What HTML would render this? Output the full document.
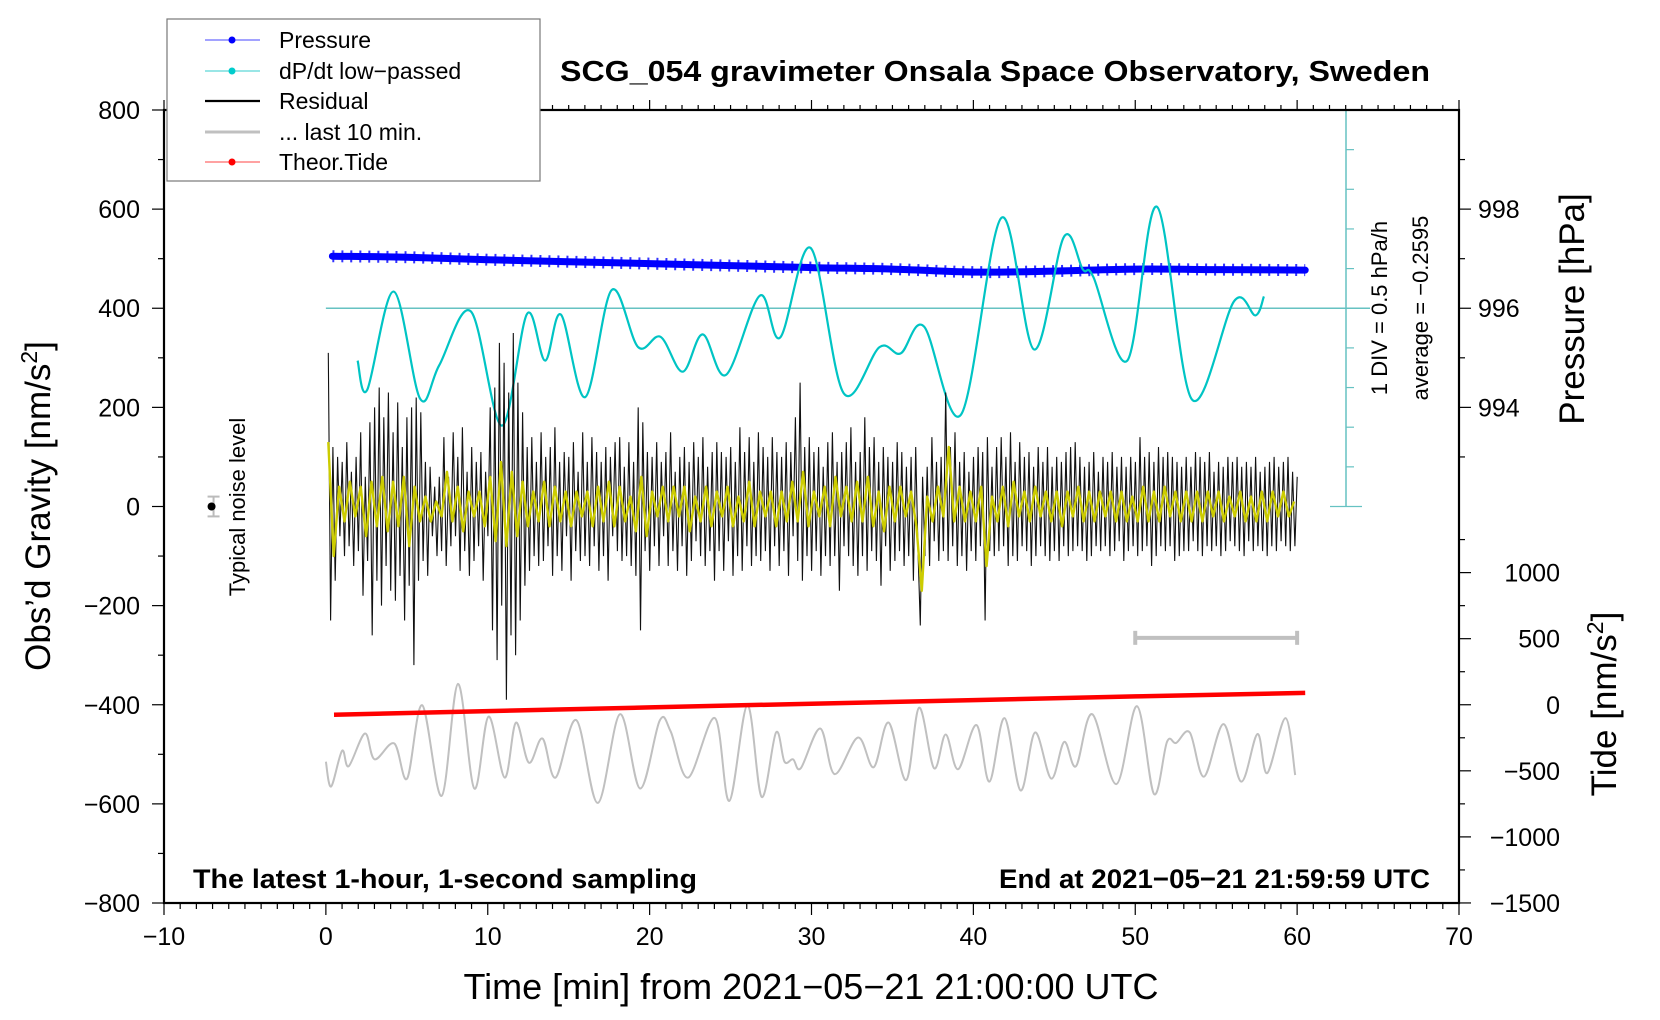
<!DOCTYPE html>
<html><head><meta charset="utf-8"><style>
html,body{margin:0;padding:0;background:#fff}
svg{display:block;font-family:"Liberation Sans",sans-serif}
</style></head><body>
<svg id="chart" width="1660" height="1020" viewBox="0 0 1660 1020" xmlns="http://www.w3.org/2000/svg">
<rect width="1660" height="1020" fill="#fff"/>
<g id="marks"></g>
<g id="axes"></g>
<text x="995" y="81" text-anchor="middle" font-size="29" font-weight="bold" textLength="870" lengthAdjust="spacingAndGlyphs">SCG_054 gravimeter Onsala Space Observatory, Sweden</text>
<text x="193" y="888" font-size="27" font-weight="bold" textLength="504" lengthAdjust="spacingAndGlyphs">The latest 1-hour, 1-second sampling</text>
<text x="1430" y="888" text-anchor="end" font-size="27" font-weight="bold" textLength="431" lengthAdjust="spacingAndGlyphs">End at 2021−05−21 21:59:59 UTC</text>
<text x="811" y="999" text-anchor="middle" font-size="36" textLength="695" lengthAdjust="spacingAndGlyphs">Time [min] from 2021−05−21 21:00:00 UTC</text>
<text transform="translate(50,506) rotate(-90)" text-anchor="middle" font-size="35">Obs’d Gravity [nm/s<tspan font-size="23" dy="-13">2</tspan><tspan dy="13">]</tspan></text>
<text transform="translate(1584,309) rotate(-90)" text-anchor="middle" font-size="35">Pressure [hPa]</text>
<text transform="translate(1616,704) rotate(-90)" text-anchor="middle" font-size="35">Tide [nm/s<tspan font-size="23" dy="-13">2</tspan><tspan dy="13">]</tspan></text>
<text transform="translate(1387,308) rotate(-90)" text-anchor="middle" font-size="22">1 DIV = 0.5 hPa/h</text>
<text transform="translate(1428,308) rotate(-90)" text-anchor="middle" font-size="22">average = −0.2595</text>
<text transform="translate(245,507) rotate(-90)" text-anchor="middle" font-size="22">Typical noise level</text>
<g>
<rect x="167" y="19" width="373" height="162" fill="#fff" stroke="#777" stroke-width="1.2"/>
<line x1="205" y1="40" x2="260" y2="40" stroke="#4444ff" stroke-width="1"/><circle cx="232" cy="40" r="3.5" fill="#0000ff"/>
<text x="279" y="48" font-size="23">Pressure</text>
<line x1="205" y1="71" x2="260" y2="71" stroke="#33cccc" stroke-width="1"/><circle cx="232" cy="71" r="3.5" fill="#00cccc"/>
<text x="279" y="79" font-size="23">dP/dt low−passed</text>
<line x1="205" y1="101" x2="260" y2="101" stroke="#000" stroke-width="2.2"/>
<text x="279" y="109" font-size="23">Residual</text>
<line x1="205" y1="132" x2="260" y2="132" stroke="#c0c0c0" stroke-width="3"/>
<text x="279" y="140" font-size="23">... last 10 min.</text>
<line x1="205" y1="162" x2="260" y2="162" stroke="#ff4444" stroke-width="1"/><circle cx="232" cy="162" r="3.5" fill="#ff0000"/>
<text x="279" y="170" font-size="23">Theor.Tide</text>
</g>
</svg>
<script>
// ---- data ----
const xTicks = [-10,0,10,20,30,40,50,60,70];
const yTicks = [800,600,400,200,0,-200,-400,-600,-800];
const pressureTicks = [998,996,994];
const tideTicks = [1000,500,0,-500,-1000,-1500];
const pressureT = [0.4,5,10,15,20,25,30,35,40,45,50,55,60.5];
const pressureV = [997.05,997.03,996.98,996.94,996.9,996.86,996.82,996.79,996.73,996.75,996.79,996.78,996.77];
const dpdtT = [1.96,2.55,4.19,5.82,7.0,8.96,10.86,12.43,13.54,14.52,16.02,17.66,19.29,20.67,22.04,23.28,24.72,26.81,28.06,29.95,31.98,34.2,35.51,36.95,39.24,41.73,43.75,45.59,46.76,47.42,49.51,51.34,53.5,56.11,57.42,57.95];
const dpdtDev = [-0.66,-1.03,0.21,-1.14,-0.72,-0.04,-1.48,-0.07,-0.66,-0.08,-1.12,0.23,-0.49,-0.36,-0.8,-0.33,-0.84,0.16,-0.37,0.76,-1.07,-0.49,-0.57,-0.23,-1.34,1.14,-0.52,0.9,0.49,0.39,-0.66,1.28,-1.15,0.09,-0.09,0.15];
const tideT = [0.5,10,20,30,40,50,60.5];
const tideV = [-75,-48,-20,8,35,63,90];
const residual = [
310,-230,120,-150,100,-60,90, -100,130,-80,70,-120,100,-90, 150,-180,60,-110,170,-260,200, -150,240,-200,180,-120,230,-170,
150,-190,210,-140,120,-230,180, -160,200,-320,220,-150,190,-110, 90,-140,80,-60,40,-100,60, -90,140,-120,60,-80,150,-60,
100,-130,160,-90,70,-140,120, -110,90,-80,110,-150,70,-60, 200,-250,240,-310,330,-200,290, -390,230,-260,350,-300,250,-230,
190,-160,120,-130,140,-100,90, -120,150,-110,100,-80,120,-140, 160,-100,90,-130,110,-60,100, -150,130,-90,70,-110,150,-100,
90,-120,140,-80,110,-130,90, -100,120,-150,100,-60,130,-90, 140,-110,80,-100,130,-120,90, -140,200,-250,170,-90,110,-130,
100,-80,130,-120,90,-60,110, -120,150,-90,70,-130,100,-80, 120,-140,90,-110,130,-70,100, -100,140,-120,80,-90,110,-150,
130,-90,110,-130,100,-70,120, -140,90,-100,160,-130,110,-80, 140,-120,90,-100,150,-110,120, -90,100,-130,140,-80,110,-120,
100,-90,130,-140,110,-60,180, -110,250,-150,120,-100,140,-130, 110,-90,120,-140,80,-100,130, -120,150,-100,90,-170,110,-80,
130,-100,160,-120,90,-140,110, -100,180,-130,120,-90,140,-110, 90,-160,120,-80,100,-130,90, -110,130,-90,110,-120,80,-100,
100,-150,120,-90,-240,60,-100, 80,-120,140,-70,90,-110,100, -90,230,-110,120,-80,150,-120, 90,-100,110,-130,70,-90,100,
-110,120,-80,110,-230,140,-90, 80,-100,120,-90,140,-80,100, -120,150,-100,90,-110,130,-80, 100,-90,110,-120,80,-100,120,
-80,90,-100,120,-110,80,-90, 100,-110,90,-80,110,-100,120, -90,130,-80,100,-90,80,-110, 90,-100,110,-80,70,-90,100,
-80,90,-100,110,-90,80,-70, 100,-110,80,-90,100,-80,90, -100,140,-90,100,-80,110,-120, 90,-100,120,-80,100,-90,110,
-80,100,-110,90,-100,80,-90, 100,-90,80,-70,110,-90,100, -100,90,-80,110,-90,70,-80, 90,-100,80,-90,100,-70,90,
-80,100,-90,80,-100,90,-70, 80,-90,100,-80,70,-90,80, -100,90,-80,100,-90,80,-70, 90,-80,100,-90,70,-80,60];
const smoothed = [
130,-100,40,-30,50,-20,40,-60,50,-40,60,-50,50,-40,60,-80,40,-30,20,-30,10,-20,70,-30,40,-50,30,-20,30,-40,
60,-70,90,-80,70,-60,50,-40,30,-30,50,-40,40,-30,30,-40,30,-20,30,-40,40,-30,50,-40,40,-30,20,-50,60,-60,
30,-20,40,-30,40,-20,40,-50,20,-30,40,-40,30,-20,40,-40,20,-30,50,-40,30,-20,30,-40,30,-30,50,-30,70,-40,
30,-20,40,-40,60,-20,40,-30,50,-30,60,-40,30,-50,40,-30,40,-20,30,-40,-170,20,-30,40,-20,120,-30,40,-30,30,
-30,40,-120,20,-30,40,-40,50,-20,30,-30,40,-20,30,-30,30,-40,30,-20,40,-30,30,-30,30,-20,30,-30,30,-30,20,
-30,40,-30,30,-30,40,-20,30,-30,30,-30,30,-30,30,-20,30,-30,20,-20,30,-30,20,-30,30,-30,30,-20,30,-20,10];
const grayT = [0,0.32,1.0,1.41,2.41,3.01,4.22,5.02,5.95,7.15,8.16,9.17,10.05,11.05,11.74,12.54,13.38,14.19,15.47,16.8,18.17,19.41,20.62,21.3,22.38,24.03,24.92,26.04,26.92,27.81,28.33,28.86,29.34,30.54,31.43,32.87,33.84,34.76,35.85,36.65,37.57,38.29,39.06,40.19,40.99,41.92,42.92,43.81,44.81,45.61,46.34,47.34,48.83,50.11,51.16,51.96,52.53,53.37,54.25,55.46,56.54,57.55,58.15,59.28,59.88];
const grayV = [-515,-565,-493,-524,-458,-510,-478,-549,-401,-584,-358,-569,-424,-547,-436,-517,-468,-547,-431,-598,-419,-569,-432,-454,-547,-427,-594,-401,-586,-456,-515,-510,-528,-448,-540,-466,-526,-436,-552,-406,-528,-460,-530,-441,-555,-427,-573,-456,-549,-475,-524,-419,-560,-403,-580,-475,-477,-456,-545,-439,-555,-459,-538,-427,-542];
const noiseT = -7, noiseV = 0, noiseErr = 20;
const barT = [50,60], barV = -265;

// ---- scales ----
const X = t => 164 + (t + 10) * 16.1875;
const Yg = g => 506.5 - g * 0.49563;
const Yp = p => Yg(400 + (p - 996) * 100);
const Yt = v => Yg(-400 + v * 0.2666);
const Yd = d => Yg(400 + d * 160);
const NS = 'http://www.w3.org/2000/svg';
const marks = document.getElementById('marks');
const axes = document.getElementById('axes');
function mk(tag, attrs, parent) {
  const e = document.createElementNS(NS, tag);
  for (const k in attrs) e.setAttribute(k, attrs[k]);
  parent.appendChild(e); return e;
}
function smoothPath(pts) {
  let d = 'M' + pts[0][0].toFixed(1) + ',' + pts[0][1].toFixed(1);
  for (let i = 0; i < pts.length - 1; i++) {
    const p0 = pts[Math.max(0, i - 1)], p1 = pts[i], p2 = pts[i + 1], p3 = pts[Math.min(pts.length - 1, i + 2)];
    const c1x = p1[0] + (p2[0] - p0[0]) / 6, c1y = p1[1] + (p2[1] - p0[1]) / 6;
    const c2x = p2[0] - (p3[0] - p1[0]) / 6, c2y = p2[1] - (p3[1] - p1[1]) / 6;
    d += ' C' + c1x.toFixed(1) + ',' + c1y.toFixed(1) + ' ' + c2x.toFixed(1) + ',' + c2y.toFixed(1) + ' ' + p2[0].toFixed(1) + ',' + p2[1].toFixed(1);
  }
  return d;
}

// dP/dt axis and baseline
const dAxis = mk('g', {}, marks);


mk('line', {x1: X(0), y1: Yd(0), x2: 1370, y2: Yd(0), stroke: '#66c2c2', 'stroke-width': 1.5}, dAxis);
mk('line', {x1: 1346, y1: Yg(800), x2: 1346, y2: Yg(0), stroke: '#66c2c2', 'stroke-width': 1.5}, dAxis);
for (let k = -5; k <= 5; k++) {
  const y = Yd(k * 0.5);
  const w = (k === 0 || Math.abs(k) === 5) ? 16 : 8;
  mk('line', {x1: 1346 - (Math.abs(k) === 5 ? 16 : 0), y1: y, x2: 1346 + w, y2: y, stroke: '#66c2c2', 'stroke-width': 1.2}, dAxis);
}

// pressure band
const pp = pressureT.map((t, i) => [X(t), Yp(pressureV[i])]);
const pLine = mk('path', {d: smoothPath(pp), fill: 'none', stroke: '#0000ff', 'stroke-width': 7, 'stroke-linecap': 'round'}, marks);


const pLine2 = mk('path', {d: smoothPath(pp), fill: 'none', stroke: '#0000ff', 'stroke-width': 12, 'stroke-dasharray': '2 7', 'stroke-opacity': 0.8}, marks);



// dP/dt curve
const dc = mk('path', {d: smoothPath(dpdtT.map((t, i) => [X(t), Yd(dpdtDev[i])])), fill: 'none', stroke: '#00c4c4', 'stroke-width': 2.2}, marks);



// residual
const rs = 60 / residual.length;
const rl = mk('polyline', {points: residual.map((v, i) => X(0.15 + i * rs).toFixed(1) + ',' + Yg(v).toFixed(1)).join(' '), fill: 'none', stroke: '#111', 'stroke-width': 1.1}, marks);


const ss = 60 / smoothed.length;
const sl = mk('polyline', {points: smoothed.map((v, i) => X(0.15 + i * ss).toFixed(1) + ',' + Yg(v).toFixed(1)).join(' '), fill: 'none', stroke: '#cccc00', 'stroke-width': 2.4, 'stroke-linejoin': 'round'}, marks);



// last 10 min
const gl = mk('path', {d: smoothPath(grayT.map((t, i) => [X(t), Yg(grayV[i])])), fill: 'none', stroke: '#c0c0c0', 'stroke-width': 2}, marks);



// tide
const tl = mk('polyline', {points: tideT.map((t, i) => X(t).toFixed(1) + ',' + Yt(tideV[i]).toFixed(1)).join(' '), fill: 'none', stroke: '#ff0000', 'stroke-width': 4.5}, marks);



// 10-min bar
const bar = mk('g', {stroke: '#c0c0c0', 'stroke-width': 4}, marks);


mk('line', {x1: X(barT[0]), y1: Yg(barV), x2: X(barT[1]), y2: Yg(barV)}, bar);
mk('line', {x1: X(barT[0]), y1: Yg(barV) - 7, x2: X(barT[0]), y2: Yg(barV) + 7}, bar);
mk('line', {x1: X(barT[1]), y1: Yg(barV) - 7, x2: X(barT[1]), y2: Yg(barV) + 7}, bar);

// noise marker
const nm = mk('g', {}, marks);


mk('line', {x1: X(noiseT) + 1, y1: Yg(noiseErr), x2: X(noiseT) + 1, y2: Yg(-noiseErr), stroke: '#bbb', 'stroke-width': 2}, nm);
mk('line', {x1: X(noiseT) - 5, y1: Yg(noiseErr), x2: X(noiseT) + 7, y2: Yg(noiseErr), stroke: '#bbb', 'stroke-width': 2}, nm);
mk('line', {x1: X(noiseT) - 5, y1: Yg(-noiseErr), x2: X(noiseT) + 7, y2: Yg(-noiseErr), stroke: '#bbb', 'stroke-width': 2}, nm);
mk('circle', {cx: X(noiseT) - 1, cy: Yg(noiseV), r: 4, fill: '#000'}, nm);

// frame
const fr = mk('rect', {x: X(-10), y: Yg(800), width: X(70) - X(-10), height: Yg(-800) - Yg(800), fill: 'none', stroke: '#000', 'stroke-width': 2.2}, axes);


for (let t = -10; t <= 70; t++) {
  const maj = t % 10 === 0;
  mk('line', {x1: X(t), y1: Yg(-800), x2: X(t), y2: Yg(-800) + (maj ? 12 : 6), stroke: '#000', 'stroke-width': 1.2}, axes);
  mk('line', {x1: X(t), y1: Yg(800), x2: X(t), y2: Yg(800) - (maj ? 10 : 5), stroke: '#000', 'stroke-width': 1.2}, axes);
}
xTicks.forEach(t => {
  const tx = mk('text', {x: X(t), y: 945, 'text-anchor': 'middle', 'font-size': 25}, axes);
  
  
  tx.textContent = String(t).replace('-', '−');
});
for (let g = -800; g <= 800; g += 100) {
  const maj = g % 200 === 0;
  mk('line', {x1: X(-10), y1: Yg(g), x2: X(-10) - (maj ? 12 : 6), y2: Yg(g), stroke: '#000', 'stroke-width': 1.2}, axes);
}
yTicks.forEach(g => {
  const tx = mk('text', {x: 140, y: Yg(g) + 9, 'text-anchor': 'end', 'font-size': 25}, axes);
  
  
  tx.textContent = String(g).replace('-', '−');
});
for (let p = 993; p <= 999; p++) {
  const maj = p % 2 === 0;
  mk('line', {x1: X(70), y1: Yp(p), x2: X(70) + (maj ? 12 : 6), y2: Yp(p), stroke: '#000', 'stroke-width': 1.2}, axes);
}
pressureTicks.forEach(p => {
  const tx = mk('text', {x: 1478, y: Yp(p) + 9, 'font-size': 25}, axes);
  
  
  tx.textContent = String(p);
});
for (let v = -1500; v <= 1250; v += 250) {
  const maj = v % 500 === 0;
  mk('line', {x1: X(70), y1: Yt(v), x2: X(70) + (maj ? 12 : 6), y2: Yt(v), stroke: '#000', 'stroke-width': 1.2}, axes);
}
tideTicks.forEach(v => {
  const tx = mk('text', {x: 1560, y: Yt(v) + 9, 'text-anchor': 'end', 'font-size': 25}, axes);
  
  
  tx.textContent = String(v).replace('-', '−');
});
</script>
</body></html>
